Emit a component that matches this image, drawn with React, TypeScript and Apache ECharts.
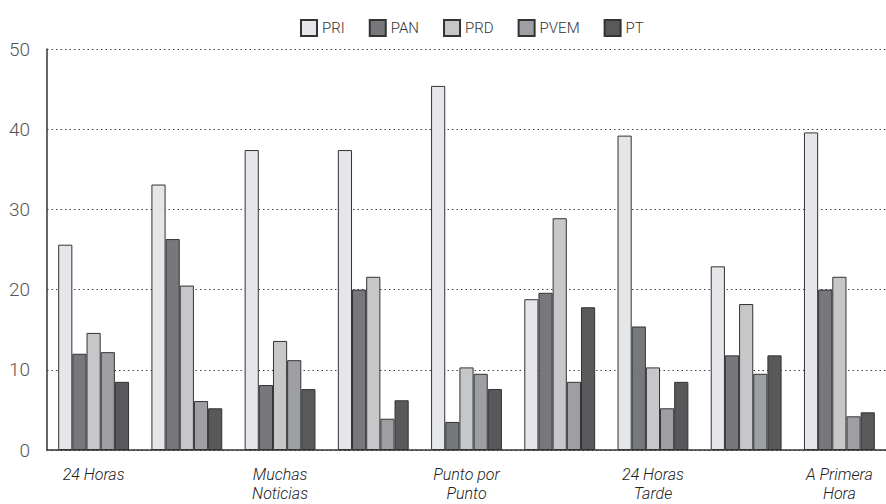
import React, { useEffect, useRef } from "react";
import * as echarts from "echarts";

// Programs (only every other group carries a printed name)
const categories: string[] = [
  "24 Horas",
  "",
  "Muchas\nNoticias",
  "",
  "Punto por\nPunto",
  "",
  "24 Horas\nTarde",
  "",
  "A Primera\nHora",
];

const parties: string[] = ["PRI", "PAN", "PRD", "PVEM", "PT"];

const priValues: number[] = [25.6, 33.1, 37.4, 37.4, 45.4, 18.8, 39.2, 22.9, 39.6];
const panValues: number[] = [12.0, 26.3, 8.1, 20.0, 3.5, 19.6, 15.4, 11.8, 20.0];
const prdValues: number[] = [14.6, 20.5, 13.6, 21.6, 10.3, 28.9, 10.3, 18.2, 21.6];
const pvemValues: number[] = [12.2, 6.1, 11.2, 3.9, 9.5, 8.5, 5.2, 9.5, 4.2];
const ptValues: number[] = [8.5, 5.2, 7.6, 6.2, 7.6, 17.8, 8.5, 11.8, 4.7];

const yTicks = { min: 0, max: 50, interval: 10 };

const seriesValues: number[][] = [priValues, panValues, prdValues, pvemValues, ptValues];
const fills: string[] = ["#e4e6e9", "#76787b", "#c5c7c9", "#9d9fa2", "#58595b"];

export default function App() {
  const ref = useRef<HTMLDivElement>(null);

  useEffect(() => {
    if (!ref.current) return;
    const chart = echarts.init(ref.current, undefined, { renderer: "svg" });

    const series = parties.map((name, i) => ({
      name,
      type: "bar" as const,
      data: seriesValues[i],
      barGap: "0%",
      barCategoryGap: "24%",
      itemStyle: {
        color: fills[i],
        borderColor: "#333",
        borderWidth: 1,
      },
    }));

    chart.setOption({
      animation: false,
      backgroundColor: "#ffffff",
      textStyle: { fontFamily: "Roboto" },
      legend: {
        left: 295,
        top: 14,
        icon: "rect",
        itemWidth: 16,
        itemHeight: 16,
        itemGap: 24,
        textStyle: {
          fontSize: 15,
          fontWeight: 300,
          color: "#333",
          fontFamily: "Roboto",
        },
        data: parties,
      },
      grid: { left: 47, right: 0, top: 49, bottom: 54, containLabel: false },
      xAxis: {
        type: "category",
        data: categories,
        axisLine: { show: true, lineStyle: { color: "#333", width: 1.5 } },
        axisTick: { show: false },
        axisLabel: {
          interval: 0,
          margin: 15,
          fontSize: 16,
          lineHeight: 19,
          fontStyle: "italic",
          fontWeight: 300,
          color: "#222",
          fontFamily: "Roboto",
        },
        splitLine: { show: false },
      },
      yAxis: {
        type: "value",
        min: yTicks.min,
        max: yTicks.max,
        interval: yTicks.interval,
        axisLine: { show: true, lineStyle: { color: "#333", width: 1.5 } },
        axisTick: { show: false },
        axisLabel: {
          margin: 17,
          fontSize: 19,
          fontWeight: 300,
          color: "#555",
          fontFamily: "Roboto",
        },
        splitLine: {
          show: true,
          lineStyle: { color: "#444", width: 1, type: [1.5, 3] },
        },
      },
      series,
    });

    return () => chart.dispose();
  }, []);

  return (
    <div
      ref={ref}
      style={{ position: "absolute", left: 0, top: 0, width: 886, height: 504 }}
    />
  );
}
